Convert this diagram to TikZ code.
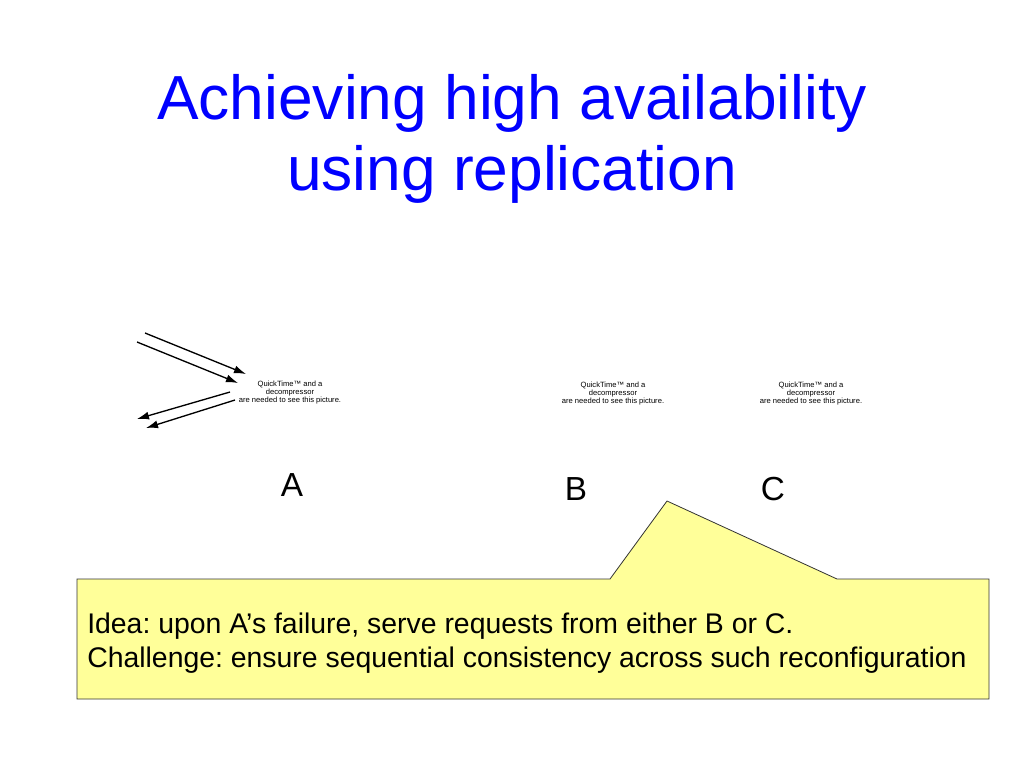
\documentclass[tikz,border=0pt]{standalone}
\usepackage{fontspec}
\setmainfont{Liberation Sans}
\usetikzlibrary{arrows.meta}
\frenchspacing
\begin{document}
\begin{tikzpicture}[x=0.75pt,y=-0.75pt,
      titletext/.style={font=\fontsize{46.7}{52}\selectfont,text=blue,anchor=base},
      qtnote/.style={font=\fontsize{5.7}{6}\selectfont,align=center},
      hostname/.style={font=\fontsize{25}{30}\selectfont,anchor=base},
      msg/.style={-{Latex[length=9pt,width=6pt]},line width=1pt}]
      \useasboundingbox (0,0) rectangle (1024,768);

      \node[titletext] (title1) at (512,119) {Achieving high availability};
      \node[titletext] (title2) at (512,190) {using replication};

      \node[qtnote] (qtA) at (290,393) {QuickTime™ and a\\decompressor\\are needed to see this picture.};
      \node[qtnote] (qtB) at (613,394) {QuickTime™ and a\\decompressor\\are needed to see this picture.};
      \node[qtnote] (qtC) at (811,394) {QuickTime™ and a\\decompressor\\are needed to see this picture.};

      \node[hostname] (labA) at (292,496) {A};
      \node[hostname] (labB) at (576,500) {B};
      \node[hostname] (labC) at (773,500) {C};

      % requests in, replies out
      \coordinate (req1) at (145,333);
      \coordinate (req2) at (137,342);
      \coordinate (rep1) at (137,419);
      \coordinate (rep2) at (146,428);
      \draw[msg] (req1) -- (246,374);
      \draw[msg] (req2) -- (238,383);
      \draw[msg] (230,392) -- (rep1);
      \draw[msg] (235,400) -- (rep2);

      % callout
      \draw[fill={rgb,255:red,255;green,255;blue,153},draw=black!80,line width=0.6pt]
            (77,579) -- (610,579) -- (667,501) -- (837,579)
            -- (989,579) -- (989,699) -- (77,699) -- cycle;
      \node[font=\fontsize{21.3}{25.5}\selectfont,align=left,anchor=base west,inner sep=0pt] (idea) at (87,667)
            {Idea: upon A’s failure, serve requests from either B or C.\\
             Challenge: ensure sequential consistency across such reconfiguration};
\end{tikzpicture}
\end{document}
